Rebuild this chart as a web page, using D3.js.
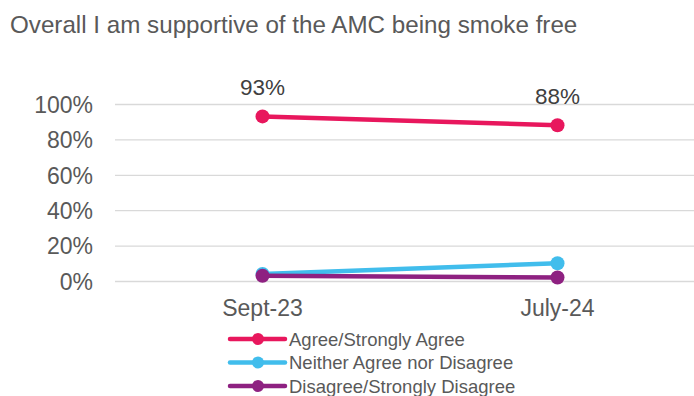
<!DOCTYPE html>
<html>
<head>
<meta charset="utf-8">
<script src="https://cdn.jsdelivr.net/npm/d3@7"></script>
<style>
  body { margin: 0; background: #fff; }
  svg { font-family: "Liberation Sans", Arial, sans-serif; }
  .grid line { stroke: #d9d9d9; stroke-width: 1.3; }
  .grid path { display: none; }
  .y-axis text, .x-axis text { fill: #595959; font-size: 23px; }
</style>
</head>
<body>
<script>
let periods = ["Sept-23", "July-24"];
let seriesNames = ["Agree/Strongly Agree", "Neither Agree nor Disagree", "Disagree/Strongly Disagree"];
let agreeValues = [93, 88];
let neitherValues = [4, 10];
let disagreeValues = [3, 2];
let yTicks = [0, 20, 40, 60, 80, 100];
let seriesColors = ["#e8175d", "#41bdec", "#8e2181"];

let width = 694, height = 396;

let svg = d3.select("body").append("svg")
    .attr("width", width)
    .attr("height", height);

let x = d3.scaleBand()
    .domain(periods)
    .range([115, 705]);

let y = d3.scaleLinear()
    .domain([0, 100])
    .range([281, 104]);

// title
svg.append("text")
    .attr("x", 10)
    .attr("y", 33)
    .attr("fill", "#595959")
    .style("font-size", "24.2px")
    .text("Overall I am supportive of the AMC being smoke free");

// gridlines
svg.append("g")
    .attr("class", "grid")
    .attr("transform", "translate(115,0)")
    .call(d3.axisLeft(y).tickValues(yTicks).tickSize(-580).tickFormat(""));

// y labels
let gY = svg.append("g")
    .attr("class", "y-axis")
    .attr("transform", "translate(93,0)")
    .call(d3.axisLeft(y).tickValues(yTicks).tickSize(0).tickFormat(d => d + "%"));
gY.select(".domain").remove();
gY.selectAll("text").attr("dy", "0.36em").attr("x", 0);

// x labels
let gX = svg.append("g")
    .attr("class", "x-axis")
    .attr("transform", "translate(0,300)")
    .call(d3.axisBottom(x).tickSize(0));
gX.select(".domain").remove();
gX.selectAll("text").attr("y", 0).attr("dy", "0.71em");

let series = [
    {name: seriesNames[0], values: agreeValues, color: seriesColors[0]},
    {name: seriesNames[1], values: neitherValues, color: seriesColors[1]},
    {name: seriesNames[2], values: disagreeValues, color: seriesColors[2]}
];

let cx = d => x(d) + x.bandwidth() / 2;

let line = d3.line()
    .x((d, i) => cx(periods[i]))
    .y(d => y(d));

let groups = svg.selectAll(".series")
    .data(series)
    .enter().append("g")
    .attr("class", "series");

groups.append("path")
    .attr("d", d => line(d.values))
    .attr("fill", "none")
    .attr("stroke", d => d.color)
    .attr("stroke-width", 4.5)
    .attr("stroke-linecap", "round");

groups.selectAll("circle")
    .data(d => d.values.map((v, i) => ({v: v, i: i, color: d.color})))
    .enter().append("circle")
    .attr("cx", d => cx(periods[d.i]))
    .attr("cy", d => y(d.v))
    .attr("r", 7)
    .attr("fill", d => d.color);

// data labels for agree series
svg.selectAll(".data-label")
    .data(agreeValues)
    .enter().append("text")
    .attr("class", "data-label")
    .attr("x", (d, i) => cx(periods[i]))
    .attr("y", d => y(d) - 21)
    .attr("text-anchor", "middle")
    .attr("fill", "#404040")
    .style("font-size", "22.5px")
    .text(d => d + "%");

// legend
let legend = svg.selectAll(".legend")
    .data(series)
    .enter().append("g")
    .attr("class", "legend")
    .attr("transform", (d, i) => "translate(230," + (339 + i * 23.5) + ")");

legend.append("line")
    .attr("x1", 0).attr("x2", 55)
    .attr("stroke", d => d.color)
    .attr("stroke-width", 4.5)
    .attr("stroke-linecap", "round");

legend.append("circle")
    .attr("cx", 28)
    .attr("r", 6)
    .attr("fill", d => d.color);

legend.append("text")
    .attr("x", 59)
    .attr("dy", "0.36em")
    .attr("fill", "#595959")
    .style("font-size", "18.5px")
    .text(d => d.name);
</script>
</body>
</html>
